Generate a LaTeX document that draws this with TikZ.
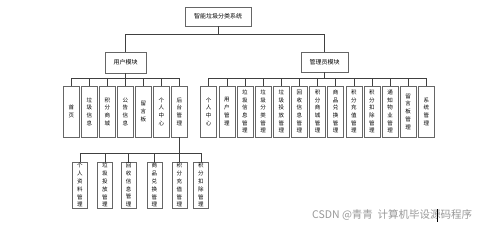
\documentclass[tikz,border=0pt]{standalone}
\usepackage{fontspec}
\setmainfont{Noto Sans CJK SC}
\tikzset{
  boxbase/.style={draw=black!60, line width=0.6pt, fill=white, inner sep=0pt, align=center},
  topbox/.style={boxbase, font=\fontsize{6}{7}\selectfont},
  colbox/.style={boxbase, minimum width=16pt, minimum height=51pt, font=\fontsize{5.5}{7.7}\selectfont},
  subbox/.style={boxbase, minimum width=15pt, minimum height=46pt, font=\fontsize{5.5}{7.9}\selectfont},
  conn/.style={draw=black!75, line width=0.6pt},
}
\begin{document}
\begin{tikzpicture}[x=1pt,y=-1pt]
\useasboundingbox[fill=white] (0,0) rectangle (498,226);
% top level
\node[topbox, minimum width=66pt, minimum height=19pt] (title) at (218,16.5) {智能垃圾分类系统};
\node[topbox, minimum width=41pt, minimum height=21pt] (usr) at (125.5,62.5) {用户模块};
\node[topbox, minimum width=47pt, minimum height=20pt] (adm) at (324.5,62) {管理员模块};
\coordinate (b0) at (0,34);
\coordinate (ub) at (0,78);
\coordinate (sb) at (0,153);
\draw[conn] (title.south) -- (title.south |- b0);
\draw[conn] (usr.north) -- (usr.north |- b0) -- (adm.north |- b0) -- (adm.north);
% user children
\foreach \t [count=\i] in {首\\页, 垃\\圾\\信\\息, 积\\分\\商\\城, 公\\告\\信\\息, 留\\言\\板, 个\\人\\中\\心, 后\\台\\管\\理}{
  \node[colbox] (uc\i) at ({71.3+18*(\i-1)},111.5) {\t};
  \draw[conn] (uc\i.north) -- (uc\i.north |- ub);
}
\draw[conn] (usr.south) -- (usr.south |- ub);
\draw[conn] (uc1.north |- ub) -- (uc7.north |- ub);
% admin children
\foreach \t [count=\i] in {个\\人\\中\\心, 用\\户\\管\\理, 垃\\圾\\信\\息\\管\\理, 垃\\圾\\分\\类\\管\\理, 垃\\圾\\投\\放\\管\\理, 回\\收\\信\\息\\管\\理, 积\\分\\商\\城\\管\\理, 商\\品\\兑\\换\\管\\理, 积\\分\\充\\值\\管\\理, 积\\分\\扣\\除\\管\\理, 通\\知\\物\\业\\管\\理, 留\\言\\板\\管\\理, 系\\统\\管\\理}{
  \node[colbox] (ac\i) at ({208.7+18.14*(\i-1)},111.5) {\t};
  \draw[conn] (ac\i.north) -- (ac\i.north |- ub);
}
\draw[conn] (adm.south) -- (adm.south |- ub);
\draw[conn] (ac1.north |- ub) -- (ac13.north |- ub);
% sub children of 后台管理
\foreach \t/\x [count=\i] in {个\\人\\资\\料\\管\\理/79.8, 垃\\圾\\投\\放\\管\\理/104.8, 回\\收\\信\\息\\管\\理/128.5, 商\\品\\兑\\换\\管\\理/154.3, 积\\分\\充\\值\\管\\理/179.3, 积\\分\\扣\\除\\管\\理/200.8}{
  \node[subbox] (sc\i) at (\x,185) {\t};
  \draw[conn] (sc\i.north) -- (sc\i.north |- sb);
}
\draw[conn] (uc7.south) -- (uc7.south |- sb);
\draw[conn] (sc1.north |- sb) -- (sc6.north |- sb);
% watermark
\node[text=black!40, font=\fontsize{10.5}{12}\selectfont, inner sep=0pt, anchor=west] (wm) at (312,215) {CSDN @青青\ \ 计算机毕设源码程序};
\coordinate (cur) at (437,209);
\draw[black, line width=0.9pt] (cur) -- ++(0,13);
\end{tikzpicture}
\end{document}
